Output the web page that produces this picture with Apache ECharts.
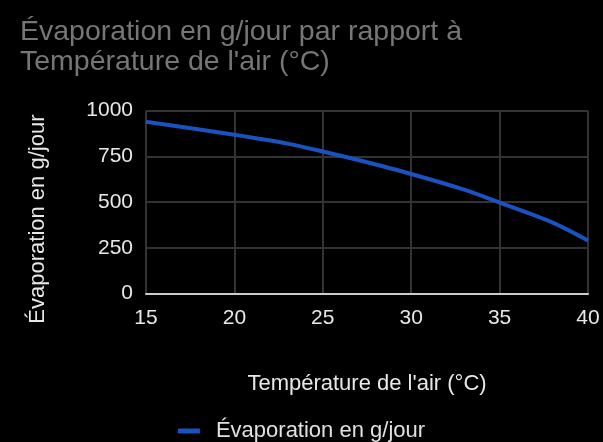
<!DOCTYPE html>
<html>
<head>
<meta charset="utf-8">
<style>
html,body{margin:0;padding:0;background:#000;}
#chart{width:603px;height:442px;}
</style>
<script src="https://cdn.jsdelivr.net/npm/echarts@6/dist/echarts.min.js"></script>
</head>
<body>
<div id="chart"></div>
<script>
var temperatures = [15, 20, 23, 25, 27, 30, 33, 35, 38, 40];
var evaporation = [940, 868, 820, 777, 730, 654, 568, 497, 388, 290];
var xTicks = [15, 20, 25, 30, 35, 40];
var yTicks = [0, 250, 500, 750, 1000];

var chart = echarts.init(document.getElementById('chart'));
var font = 'Liberation Sans, Arial, sans-serif';
chart.setOption({
  backgroundColor: '#000',
  animation: false,
  title: {
    text: "Évaporation en g/jour par rapport à\nTempérature de l'air (°C)",
    left: 15, top: 12,
    textStyle: {color: '#767676', fontSize: 28.5, fontWeight: 'normal', fontFamily: font, lineHeight: 30}
  },
  legend: {
    top: 415, left: 'center',
    itemWidth: 22, itemHeight: 5,
    icon: 'rect',
    textStyle: {color: '#e0e0e0', fontSize: 22, fontFamily: font, padding: [0, 0, 0, 11]},
    data: ['Évaporation en g/jour']
  },
  grid: {left: 146, right: 15, top: 110.7, bottom: 148.5},
  xAxis: {
    type: 'value', min: 15, max: 40, interval: 5,
    name: "Température de l'air (°C)",
    nameLocation: 'middle', nameGap: 79,
    nameTextStyle: {color: '#e8e8e8', fontSize: 22, fontFamily: font},
    axisLine: {show: true, lineStyle: {color: '#cccccc', width: 2}},
    axisTick: {show: false},
    axisLabel: {color: '#e8e8e8', fontSize: 21, fontFamily: font, margin: 14,
      formatter: function (v) { return xTicks.indexOf(v) >= 0 ? String(v) : ''; }},
    splitLine: {show: true, lineStyle: {color: '#333333', width: 2}}
  },
  yAxis: {
    type: 'value', min: 0, max: 1000, interval: 250,
    name: 'Évaporation en g/jour',
    nameLocation: 'middle', nameGap: 97,
    nameTextStyle: {color: '#e8e8e8', fontSize: 22, fontFamily: font, padding: [0, 34, 0, 0]},
    axisLine: {show: false},
    axisTick: {show: false},
    axisLabel: {color: '#e8e8e8', fontSize: 21, fontFamily: font, margin: 13,
      formatter: function (v) { return yTicks.indexOf(v) >= 0 ? String(v) : ''; }},
    splitLine: {show: true, lineStyle: {color: '#333333', width: 2}}
  },
  series: [{
    name: 'Évaporation en g/jour',
    type: 'line',
    data: temperatures.map(function (t, i) { return [t, evaporation[i]]; }),
    smooth: 0.3,
    showSymbol: false,
    symbol: 'none',
    itemStyle: {color: '#1a52c0'},
    lineStyle: {color: '#1a52c0', width: 4}
  }]
});
</script>
</body>
</html>
